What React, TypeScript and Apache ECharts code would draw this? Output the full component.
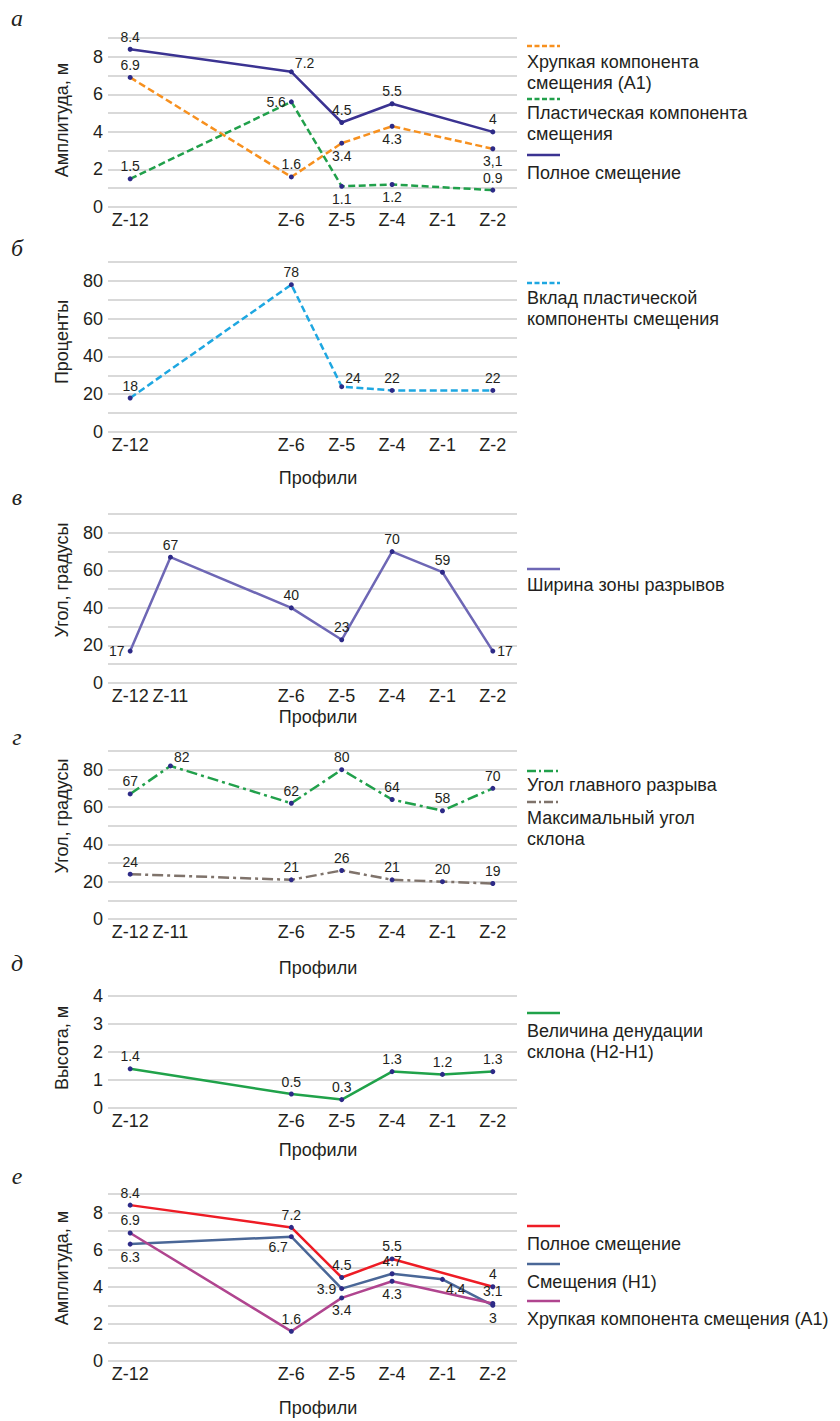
import { useEffect, useRef } from 'react';
import * as echarts from 'echarts';

const SANS = '"Liberation Sans", Arial, Helvetica, sans-serif';
const SERIF = '"Liberation Serif", "Times New Roman", serif';
const INK = '#231f20';
const DOT = '#2d2a87';
const GRID_LINE = '#cdcdcd';

// Profiles along the scarp and their relative positions
const profiles = ['Z-12', 'Z-11', 'Z-6', 'Z-5', 'Z-4', 'Z-1', 'Z-2'];
const profileDist = [0, 0.8, 3.2, 4.2, 5.2, 6.2, 7.2];
const profilesNoZ11 = ['Z-12', 'Z-6', 'Z-5', 'Z-4', 'Z-1', 'Z-2'];

// а — amplitude components, m
const brittleA1 = [6.9, null, 1.6, 3.4, 4.3, null, 3.1];
const plasticPart = [1.5, null, 5.6, 1.1, 1.2, null, 0.9];
const totalOffset = [8.4, null, 7.2, 4.5, 5.5, null, 4];
// б — plastic component share, %
const plasticShare = [18, null, 78, 24, 22, null, 22];
// в — rupture zone width
const ruptureZoneWidth = [17, 67, 40, 23, 70, 59, 17];
// г — angles, degrees
const mainScarpAngle = [67, 82, 62, 80, 64, 58, 70];
const maxSlopeAngle = [24, null, 21, 26, 21, 20, 19];
// д — slope denudation, m
const slopeDenudation = [1.4, null, 0.5, 0.3, 1.3, 1.2, 1.3];
// е — amplitude, m
const totalOffsetE = [8.4, null, 7.2, 4.5, 5.5, null, 4];
const offsetH1 = [6.3, null, 6.7, 3.9, 4.7, 4.4, 3];
const brittleA1E = [6.9, null, 1.6, 3.4, 4.3, null, 3.1];

const X_MIN = -0.44;
const X_MAX = 7.68;
const GRID_LEFT = 108;
const GRID_WIDTH = 409;

const DASH = [7, 3.5];
const DASH_DOT = [11, 4, 3, 4];

type Panel = {
  top: number; height: number; max: number; step: number; every: number;
  ticks: string[]; yName: string; yNameY: number; letter: string; letterY: number; xNameY: number | null;
};

const panels: Panel[] = [
  { top: 38, height: 169, max: 9, step: 1, every: 2, ticks: profilesNoZ11, yName: 'Амплитуда, м', yNameY: 120, letter: 'а', letterY: 18, xNameY: null },
  { top: 262, height: 170, max: 90, step: 10, every: 20, ticks: profilesNoZ11, yName: 'Проценты', yNameY: 342, letter: 'б', letterY: 248, xNameY: 478 },
  { top: 514, height: 169, max: 90, step: 10, every: 20, ticks: profiles, yName: 'Угол, градусы', yNameY: 580, letter: 'в', letterY: 497, xNameY: 717 },
  { top: 751, height: 168, max: 90, step: 10, every: 20, ticks: profiles, yName: 'Угол, градусы', yNameY: 816, letter: 'г', letterY: 737, xNameY: 968 },
  { top: 996, height: 112, max: 4, step: 1, every: 1, ticks: profilesNoZ11, yName: 'Высота, м', yNameY: 1048, letter: 'д', letterY: 963, xNameY: 1150 },
  { top: 1194, height: 167, max: 9, step: 1, every: 2, ticks: profilesNoZ11, yName: 'Амплитуда, м', yNameY: 1268, letter: 'е', letterY: 1176, xNameY: 1408 },
];

function labelAt(p: string) {
  switch (p) {
    case 'b': return { position: 'bottom', distance: 3 };
    case 'l': return { position: 'left', distance: 3 };
    case 'r': return { position: 'right', distance: 2 };
    case 'tr': return { position: 'right', distance: 1, offset: [0, -9] };
    case 'tl': return { position: 'left', distance: 1, offset: [0, -9] };
    case 'bl': return { position: 'left', distance: 1, offset: [0, 10] };
    case 'br': return { position: 'right', distance: 1, offset: [0, 10] };
    default: return { position: 'top', distance: 3 };
  }
}

function makeLine(
  panel: number, name: string, values: (number | null)[], color: string,
  dash: any, places: string[], texts: Record<number, string> = {}
) {
  const data: any[] = [];
  values.forEach((v, i) => {
    if (v === null) return;
    const label: any = labelAt(places[i]);
    if (texts[i]) label.formatter = texts[i];
    data.push({ value: [profileDist[i], v], label });
  });
  return {
    type: 'line',
    name,
    xAxisIndex: panel,
    yAxisIndex: panel,
    data,
    symbol: 'circle',
    symbolSize: 5,
    itemStyle: { color: DOT },
    lineStyle: { color, width: 2.5, type: dash },
    label: {
      show: true,
      fontSize: 14,
      color: INK,
      fontFamily: SANS,
      formatter: (p: any) => String(p.value[1]),
    },
    emphasis: { disabled: true },
    silent: true,
  };
}

type LegendItem = { text: string; color: string; dash: number[] | null; sampleY: number; textTop: number };

const legends: LegendItem[] = [
  { text: 'Хрупкая компонента\nсмещения (А1)', color: '#f7901e', dash: [5, 2.5], sampleY: 46, textTop: 51 },
  { text: 'Пластическая компонента\nсмещения', color: '#21a04b', dash: [5, 2.5], sampleY: 99, textTop: 102 },
  { text: 'Полное смещение', color: '#3b3392', dash: null, sampleY: 155, textTop: 162 },
  { text: 'Вклад пластической\nкомпоненты смещения', color: '#1ea7e1', dash: [5, 2.5], sampleY: 283, textTop: 287 },
  { text: 'Ширина зоны разрывов', color: '#6e67b5', dash: null, sampleY: 569, textTop: 574 },
  { text: 'Угол главного разрыва', color: '#21a04b', dash: [9, 3, 2, 3], sampleY: 771, textTop: 774 },
  { text: 'Максимальный угол\nсклона', color: '#7f736b', dash: [9, 3, 2, 3], sampleY: 802, textTop: 807 },
  { text: 'Величина денудации\nсклона (H2-H1)', color: '#20a24a', dash: null, sampleY: 1013, textTop: 1020 },
  { text: 'Полное смещение', color: '#ee1c25', dash: null, sampleY: 1226, textTop: 1233 },
  { text: 'Смещения (H1)', color: '#4a6797', dash: null, sampleY: 1264, textTop: 1271 },
  { text: 'Хрупкая компонента смещения (А1)', color: '#b0458f', dash: null, sampleY: 1301, textTop: 1308 },
];

function nameAt(v: number) {
  const i = profileDist.findIndex((d) => Math.abs(d - v) < 1e-6);
  return i >= 0 ? profiles[i] : '';
}

function buildOption() {
  const grid = panels.map((p) => ({ left: GRID_LEFT, width: GRID_WIDTH, top: p.top, height: p.height }));

  const xAxis = panels.map((p, i) => ({
    type: 'value',
    gridIndex: i,
    min: X_MIN,
    max: X_MAX,
    axisLine: { show: false },
    axisTick: { show: false },
    splitLine: { show: false },
    axisLabel: {
      customValues: p.ticks.map((n) => profileDist[profiles.indexOf(n)]),
      formatter: (v: number) => nameAt(v),
      margin: 4,
      fontSize: 18,
      color: INK,
      fontFamily: SANS,
    },
  }));

  const yAxis = panels.map((p, i) => ({
    type: 'value',
    gridIndex: i,
    min: 0,
    max: p.max,
    interval: p.step,
    axisLine: { show: false },
    axisTick: { show: false },
    splitLine: { show: true, lineStyle: { color: GRID_LINE, width: 1.5 } },
    axisLabel: {
      margin: 5,
      fontSize: 18,
      color: INK,
      fontFamily: SANS,
      formatter: (v: number) => (Math.round(v) % p.every === 0 ? String(v) : ''),
    },
  }));

  const series = [
    makeLine(0, 'Хрупкая компонента смещения (А1)', brittleA1, '#f7901e', DASH, ['t', '', 't', 'b', 'b', '', 'b'], { 6: '3,1' }),
    makeLine(0, 'Пластическая компонента смещения', plasticPart, '#21a04b', DASH, ['t', '', 'l', 'b', 'b', '', 't']),
    makeLine(0, 'Полное смещение', totalOffset, '#3b3392', 'solid', ['t', '', 'tr', 't', 't', '', 't']),
    makeLine(1, 'Вклад пластической компоненты смещения', plasticShare, '#1ea7e1', DASH, ['t', '', 't', 'tr', 't', '', 't']),
    makeLine(2, 'Ширина зоны разрывов', ruptureZoneWidth, '#6e67b5', 'solid', ['l', 't', 't', 't', 't', 't', 'r']),
    makeLine(3, 'Угол главного разрыва', mainScarpAngle, '#21a04b', DASH_DOT, ['t', 'tr', 't', 't', 't', 't', 't']),
    makeLine(3, 'Максимальный угол склона', maxSlopeAngle, '#7f736b', DASH_DOT, ['t', '', 't', 't', 't', 't', 't']),
    makeLine(4, 'Величина денудации склона (H2-H1)', slopeDenudation, '#20a24a', 'solid', ['t', '', 't', 't', 't', 't', 't']),
    makeLine(5, 'Полное смещение', totalOffsetE, '#ee1c25', 'solid', ['t', '', 't', 't', 't', '', 't']),
    makeLine(5, 'Смещения (H1)', offsetH1, '#4a6797', 'solid', ['b', '', 'bl', 'l', 't', 'br', 'b']),
    makeLine(5, 'Хрупкая компонента смещения (А1)', brittleA1E, '#b0458f', 'solid', ['t', '', 't', 'b', 'b', '', 't']),
  ];

  const graphic: any[] = [];
  panels.forEach((p) => {
    graphic.push({
      type: 'text', x: 17, y: p.letterY, silent: true,
      style: { text: p.letter, fill: INK, fontSize: 24, fontStyle: 'italic', fontFamily: SERIF, align: 'center', verticalAlign: 'middle' },
    });
    graphic.push({
      type: 'text', x: 62, y: p.yNameY, rotation: Math.PI / 2, silent: true,
      style: { text: p.yName, fill: INK, fontSize: 18, fontFamily: SANS, align: 'center', verticalAlign: 'middle' },
    });
    if (p.xNameY !== null) {
      graphic.push({
        type: 'text', x: 318, y: p.xNameY, silent: true,
        style: { text: 'Профили', fill: INK, fontSize: 18, fontFamily: SANS, align: 'center', verticalAlign: 'middle' },
      });
    }
  });
  legends.forEach((l) => {
    graphic.push({
      type: 'line', silent: true,
      shape: { x1: 527, y1: l.sampleY, x2: 560, y2: l.sampleY },
      style: { stroke: l.color, lineWidth: 2.5, lineDash: l.dash || undefined },
    });
    graphic.push({
      type: 'text', x: 527, y: l.textTop, silent: true,
      style: { text: l.text, fill: INK, fontSize: 18, lineHeight: 21, fontFamily: SANS, align: 'left', verticalAlign: 'top' },
    });
  });

  return {
    animation: false,
    backgroundColor: '#ffffff',
    grid,
    xAxis,
    yAxis,
    series,
    graphic,
  };
}

export default function App() {
  const ref = useRef<HTMLDivElement>(null);
  useEffect(() => {
    if (!ref.current) return;
    const chart = echarts.init(ref.current, undefined, { renderer: 'svg' });
    chart.setOption(buildOption() as any);
    return () => chart.dispose();
  }, []);
  return (
    <div
      ref={ref}
      style={{ position: 'absolute', left: 0, top: 0, width: 840, height: 1421, background: '#fff' }}
    />
  );
}
